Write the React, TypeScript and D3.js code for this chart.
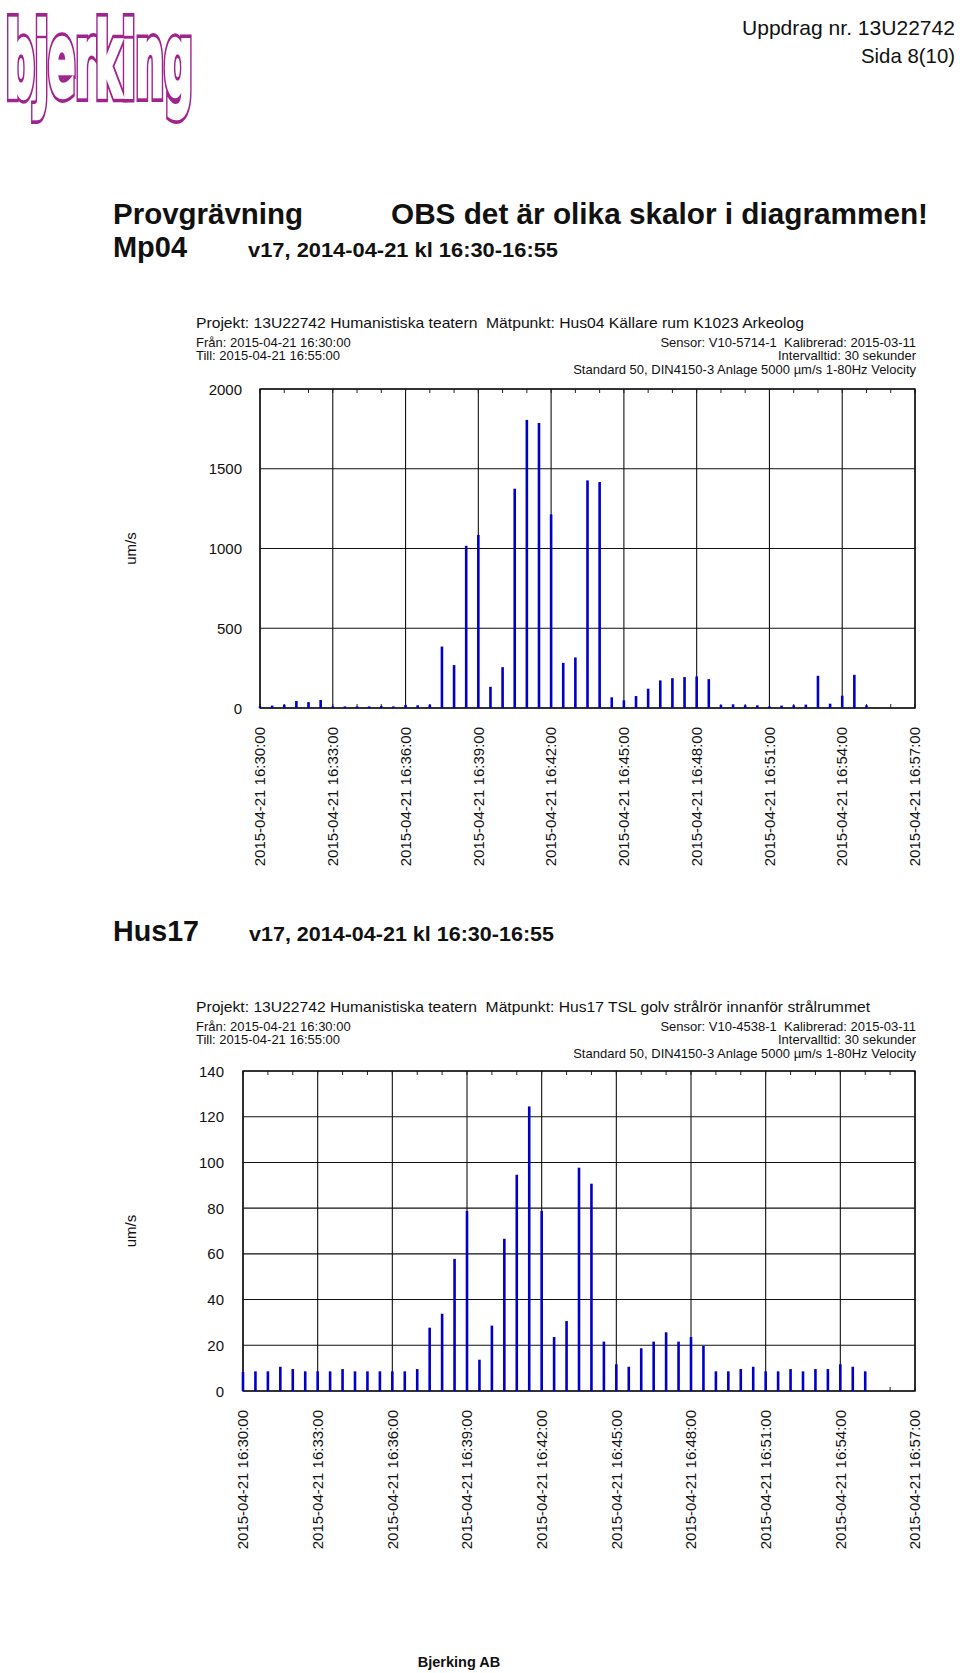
import React from "react";
import * as d3 from "d3";

// ---------- data ----------
const DAY = "2015-04-21";
const sampleTimes = [
  "16:30:00","16:30:30","16:31:00","16:31:30","16:32:00","16:32:30","16:33:00","16:33:30","16:34:00","16:34:30",
  "16:35:00","16:35:30","16:36:00","16:36:30","16:37:00","16:37:30","16:38:00","16:38:30","16:39:00","16:39:30",
  "16:40:00","16:40:30","16:41:00","16:41:30","16:42:00","16:42:30","16:43:00","16:43:30","16:44:00","16:44:30",
  "16:45:00","16:45:30","16:46:00","16:46:30","16:47:00","16:47:30","16:48:00","16:48:30","16:49:00","16:49:30",
  "16:50:00","16:50:30","16:51:00","16:51:30","16:52:00","16:52:30","16:53:00","16:53:30","16:54:00","16:54:30",
  "16:55:00",
];
const mp04Values = [
  10, 15, 21, 44, 37, 50, 10, 10, 10, 10,
  12, 10, 19, 17, 21, 385, 269, 1017, 1085, 133,
  256, 1375, 1806, 1787, 1214, 283, 317, 1427, 1417, 67,
  48, 75, 121, 173, 187, 194, 198, 181, 19, 23,
  17, 17, 10, 15, 17, 21, 202, 27, 77, 208,
  17,
];
const hus17Values = [
  8.3, 8.6, 8.6, 10.6, 9.6, 8.6, 8.6, 8.6, 9.6, 8.6,
  8.6, 8.6, 8.6, 8.6, 9.6, 27.7, 33.8, 57.8, 78.8, 13.7,
  28.6, 66.6, 94.6, 124.5, 78.8, 23.6, 30.6, 97.7, 90.7, 21.6,
  11.7, 10.6, 18.7, 21.6, 25.7, 21.6, 23.6, 19.7, 8.6, 8.6,
  9.6, 10.6, 8.6, 8.6, 9.6, 8.6, 9.6, 9.6, 11.7, 10.6,
  8.6,
];
const axisStart = "16:30:00";
const axisEnd = "16:57:00";
const mp04YTicks = [0, 500, 1000, 1500, 2000];
const hus17YTicks = [0, 20, 40, 60, 80, 100, 120, 140];

const mp04Header = {
  projekt: "Projekt: 13U22742 Humanistiska teatern  Mätpunkt: Hus04 Källare rum K1023 Arkeolog",
  sensor: "Sensor: V10-5714-1  Kalibrerad: 2015-03-11",
};
const hus17Header = {
  projekt: "Projekt: 13U22742 Humanistiska teatern  Mätpunkt: Hus17 TSL golv strålrör innanför strålrummet",
  sensor: "Sensor: V10-4538-1  Kalibrerad: 2015-03-11",
};
const fromText = "Från: 2015-04-21 16:30:00";
const tillText = "Till: 2015-04-21 16:55:00";
const intervalText = "Intervalltid: 30 sekunder";
const standardText = "Standard 50, DIN4150-3 Anlage 5000 µm/s 1-80Hz Velocity";

// ---------- helpers ----------
const FONT = "'Liberation Sans', Arial, Helvetica, sans-serif";
const parse = d3.timeParse("%Y-%m-%d %H:%M:%S");
const fmt = d3.timeFormat("%Y-%m-%d %H:%M:%S");
const toDate = (t: string) => parse(`${DAY} ${t}`) as Date;

type ChartProps = {
  x0: number; x1: number; yTop: number; yBot: number;
  yMax: number; yTicks: number[]; values: number[]; labelGap: number;
};

function StemChart({ x0, x1, yTop, yBot, yMax, yTicks, values, labelGap }: ChartProps) {
  const xs = d3.scaleTime().domain([toDate(axisStart), toDate(axisEnd)]).range([x0, x1]);
  const ys = d3.scaleLinear().domain([0, yMax]).range([yBot, yTop]);
  const major = xs.ticks(d3.timeMinute.every(3) as any);
  const minor = xs.ticks(d3.timeMinute.every(1) as any);
  const barW = 2.6;
  const midY = (yTop + yBot) / 2;
  return (
    <g>
      {yTicks.map((v) => (
        <line key={"h" + v} x1={x0} x2={x1} y1={ys(v)} y2={ys(v)} stroke="#111" strokeWidth={1.1} />
      ))}
      {major.map((d, i) => (
        <line key={"v" + i} x1={xs(d)} x2={xs(d)} y1={yTop} y2={yBot} stroke="#111" strokeWidth={1.1} />
      ))}
      {minor.map((d, i) => (
        <g key={"m" + i}>
          <line x1={xs(d)} x2={xs(d)} y1={yTop} y2={yTop + 4} stroke="#222" strokeWidth={1} />
          <line x1={xs(d)} x2={xs(d)} y1={yBot} y2={yBot - 4} stroke="#222" strokeWidth={1} />
        </g>
      ))}
      <rect x={x0} y={yTop} width={x1 - x0} height={yBot - yTop} fill="none" stroke="#111" strokeWidth={1.4} />
      {values.map((v, i) => {
        const x = xs(toDate(sampleTimes[i]));
        return (
          <rect key={"b" + i} x={x - barW / 2} y={ys(v)} width={barW} height={yBot - ys(v)} fill="#0000c8" />
        );
      })}
      {yTicks.map((v) => (
        <text key={"yl" + v} x={x0 - labelGap} y={ys(v)} textAnchor="end" dominantBaseline="central"
          fontFamily={FONT} fontSize={15} fill="#111">{v}</text>
      ))}
      {major.map((d, i) => (
        <text key={"xl" + i} x={xs(d)} y={yBot + 19} transform={`rotate(-90, ${xs(d)}, ${yBot + 19})`}
          textAnchor="end" dy="0.35em" fontFamily={FONT} fontSize={15} fill="#111">{fmt(d)}</text>
      ))}
      <text x={130} y={midY} transform={`rotate(-90, 130, ${midY})`} textAnchor="middle" dominantBaseline="central"
        fontFamily={FONT} fontSize={15} fill="#111">um/s</text>
    </g>
  );
}

function ChartHeader({ y, projekt, sensor, projektLen }: { y: number; projekt: string; sensor: string; projektLen: number }) {
  return (
    <g fontFamily={FONT} fill="#111" style={{ whiteSpace: "pre" }}>
      <text x={196} y={y} fontSize={15} textLength={projektLen} lengthAdjust="spacingAndGlyphs" style={{ whiteSpace: "pre" }}>{projekt}</text>
      <text x={196} y={y + 19} fontSize={13}>{fromText}</text>
      <text x={196} y={y + 32} fontSize={13}>{tillText}</text>
      <text x={916} y={y + 19} fontSize={13} textAnchor="end" style={{ whiteSpace: "pre" }}>{sensor}</text>
      <text x={916} y={y + 32} fontSize={13} textAnchor="end">{intervalText}</text>
      <text x={916} y={y + 46} fontSize={13} textAnchor="end">{standardText}</text>
    </g>
  );
}

const LOGO_COLOR = "#a0248e";
const logoProps = {
  transform: "translate(6,96) scale(1.0,2.55)",
  fontFamily: "'DejaVu Sans', sans-serif",
  fontWeight: "bold" as const,
  fontSize: 40,
  strokeLinejoin: "miter" as const,
};

export default function App() {
  return (
    <svg width={960} height={1673} style={{ position: "absolute", left: 0, top: 0, background: "#fff" }}>
      <rect x={0} y={0} width={960} height={1673} fill="#fff" />
      {/* logo: thickened outlined letters */}
      <text {...logoProps} fill={LOGO_COLOR} stroke={LOGO_COLOR} strokeWidth={9}
        style={{ vectorEffect: "non-scaling-stroke" } as any}>bjerking</text>
      <text {...logoProps} fill="#fff" stroke="#fff" strokeWidth={3.5}
        style={{ vectorEffect: "non-scaling-stroke" } as any}>bjerking</text>
      {/* page header */}
      <g fontFamily={FONT} fill="#111">
        <text x={955} y={35} fontSize={21} textAnchor="end" textLength={213} lengthAdjust="spacingAndGlyphs">Uppdrag nr. 13U22742</text>
        <text x={955} y={63} fontSize={21} textAnchor="end" textLength={94} lengthAdjust="spacingAndGlyphs">Sida 8(10)</text>
        <text x={113} y={224} fontSize={30} fontWeight="bold" textLength={190} lengthAdjust="spacingAndGlyphs">Provgrävning</text>
        <text x={391} y={224} fontSize={30} fontWeight="bold" textLength={537} lengthAdjust="spacingAndGlyphs">OBS det är olika skalor i diagrammen!</text>
        <text x={113} y={257} fontSize={30} fontWeight="bold" textLength={74} lengthAdjust="spacingAndGlyphs">Mp04</text>
        <text x={248} y={257} fontSize={21} fontWeight="bold" textLength={310} lengthAdjust="spacingAndGlyphs">v17, 2014-04-21 kl 16:30-16:55</text>
        <text x={113} y={941} fontSize={30} fontWeight="bold" textLength={86} lengthAdjust="spacingAndGlyphs">Hus17</text>
        <text x={249} y={941} fontSize={21} fontWeight="bold" textLength={305} lengthAdjust="spacingAndGlyphs">v17, 2014-04-21 kl 16:30-16:55</text>
        <text x={459} y={1667} fontSize={14.5} fontWeight="bold" textAnchor="middle">Bjerking AB</text>
      </g>

      <ChartHeader y={328} projekt={mp04Header.projekt} sensor={mp04Header.sensor} projektLen={608} />
      <StemChart x0={260} x1={915} yTop={389} yBot={708} yMax={2000} yTicks={mp04YTicks} values={mp04Values} labelGap={18} />

      <ChartHeader y={1012} projekt={hus17Header.projekt} sensor={hus17Header.sensor} projektLen={674} />
      <StemChart x0={243} x1={915} yTop={1071} yBot={1391} yMax={140} yTicks={hus17YTicks} values={hus17Values} labelGap={19} />
    </svg>
  );
}
